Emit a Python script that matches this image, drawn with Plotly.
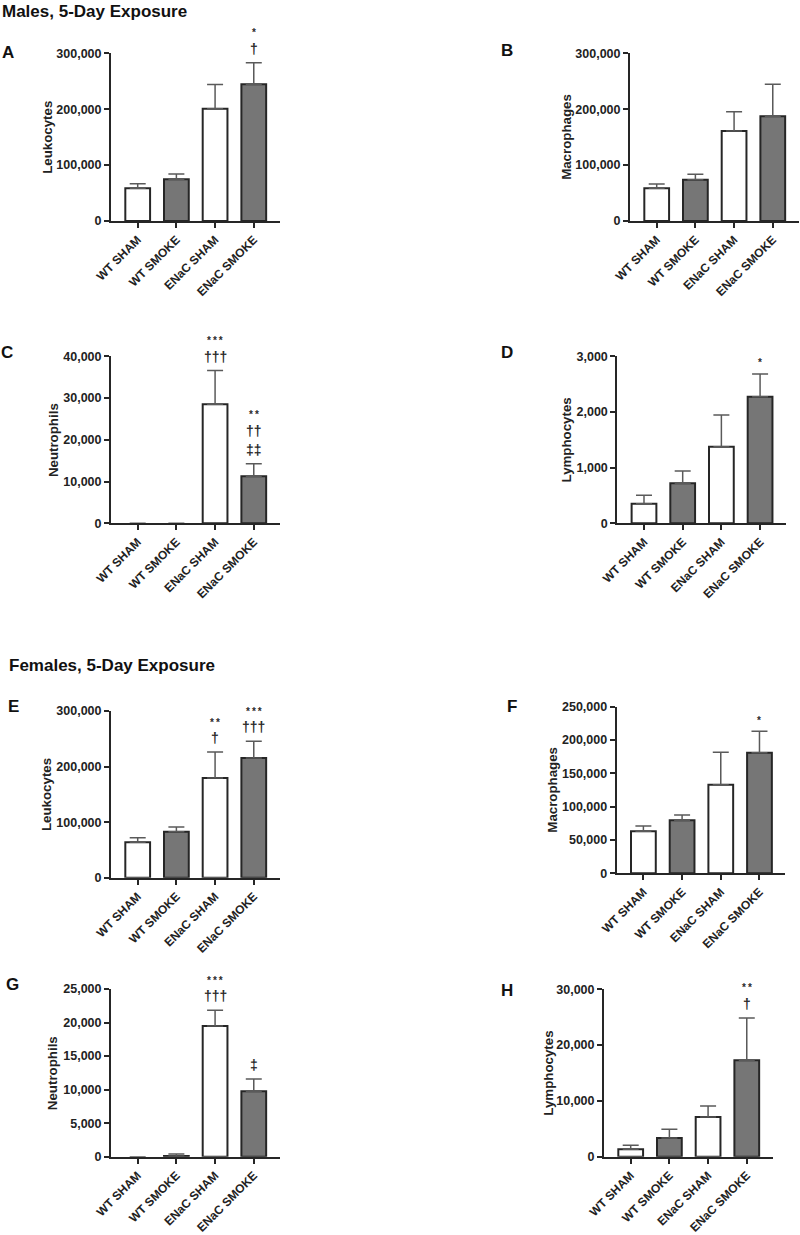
import plotly.graph_objects as go

W, H = 800, 1235

categories = ["WT SHAM", "WT SMOKE", "ENaC SHAM", "ENaC SMOKE"]

# Males, 5-day exposure (None = no visible error bar)
males_leuk_mean = [58400, 74500, 201000, 244500]
males_leuk_sem = [8400, 9600, 43000, 38800]
males_mac_mean = [58400, 74000, 161000, 187300]
males_mac_sem = [7800, 9500, 34600, 57200]
males_neut_mean = [0, 0, 28500, 11260]
males_neut_sem = [None, None, 8070, 3030]
males_lymph_mean = [353, 719, 1377, 2275]
males_lymph_sem = [150, 221, 569, 408]

# Females, 5-day exposure
females_leuk_mean = [63600, 82800, 179400, 215400]
females_leuk_sem = [8400, 8400, 46800, 30000]
females_mac_mean = [63000, 79500, 133000, 181000]
females_mac_sem = [8000, 8000, 48500, 32000]
females_neut_mean = [0, 120, 19480, 9740]
females_neut_sem = [None, 280, 2340, 1840]
females_lymph_mean = [1315, 3350, 7110, 17270]
females_lymph_sem = [715, 1550, 1975, 7590]

# significance markers per panel: category index -> symbols top to bottom
sig_A = {3: ["*", "†"]}
sig_B = {}
sig_C = {2: ["***", "†††"], 3: ["**", "††", "‡‡"]}
sig_D = {3: ["*"]}
sig_E = {2: ["**", "†"], 3: ["***", "†††"]}
sig_F = {3: ["*"]}
sig_G = {2: ["***", "†††"], 3: ["‡"]}
sig_H = {3: ["**", "†"]}

panels = [
    # letter, ytitle, mean, sem, ymax, dtick, sig, axis-x px, top px, bottom px, title x px, letter pos
    ("A", "Leukocytes", males_leuk_mean, males_leuk_sem, 300000, 100000, sig_A, 111, 53.3, 221, 46.7, (8, 52)),
    ("B", "Macrophages", males_mac_mean, males_mac_sem, 300000, 100000, sig_B, 630, 53.3, 221, 565.7, (507, 50)),
    ("C", "Neutrophils", males_neut_mean, males_neut_sem, 40000, 10000, sig_C, 111, 356.3, 523.3, 53.3, (7, 353)),
    ("D", "Lymphocytes", males_lymph_mean, males_lymph_sem, 3000, 1000, sig_D, 617.3, 356.3, 523.3, 566.7, (507, 352)),
    ("E", "Leukocytes", females_leuk_mean, females_leuk_sem, 300000, 100000, sig_E, 111, 711, 877.7, 46.7, (13, 706)),
    ("F", "Macrophages", females_mac_mean, females_mac_sem, 250000, 50000, sig_F, 616.7, 706.7, 873.3, 551.7, (512, 706)),
    ("G", "Neutrophils", females_neut_mean, females_neut_sem, 25000, 5000, sig_G, 111, 989, 1156.7, 53.3, (12, 984)),
    ("H", "Lymphocytes", females_lymph_mean, females_lymph_sem, 30000, 10000, sig_H, 604, 989.3, 1156.7, 547.7, (507, 990)),
]

FONT = "Liberation Sans, Arial, Helvetica, sans-serif"
AXC = "#262626"
bar_colors = ["#ffffff", "#767676", "#ffffff", "#767676"]
XRANGE = [-0.69, 3.67]
AX_W = 168.7

fig = go.Figure()
layout = dict(
    width=W, height=H,
    margin=dict(l=0, r=0, t=0, b=0),
    paper_bgcolor="white", plot_bgcolor="white",
    showlegend=False,
    font=dict(family=FONT, size=12, color="#222"),
)
annotations = []

def px_x(x):
    return x / W

def px_y(y):
    return 1 - y / H

for i, (letter, ytitle, mean, sem, ymax, dtick, sig, ax_x, top, bot, tx, lpos) in enumerate(panels):
    n = i + 1
    xa = "x" if n == 1 else f"x{n}"
    ya = "y" if n == 1 else f"y{n}"
    fig.add_trace(go.Bar(
        x=categories, y=mean, xaxis=xa, yaxis=ya,
        width=0.64,
        marker=dict(color=bar_colors,
                    line=dict(color=AXC, width=[0 if v == 0 else 2 for v in mean])),
        error_y=dict(type="data", symmetric=False, array=sem, arrayminus=[0] * 4,
                     color="#5a5a5a", thickness=1.5, width=8),
        hoverinfo="skip",
    ))
    common = dict(
        showline=True, linecolor=AXC, linewidth=2, showgrid=False, zeroline=False,
        ticks="outside", ticklen=5, tickwidth=2, tickcolor=AXC, automargin=False,
    )
    layout["xaxis" if n == 1 else f"xaxis{n}"] = dict(
        domain=[px_x(ax_x), px_x(ax_x + AX_W)], anchor=ya, range=XRANGE,
        type="category", tickangle=-45, fixedrange=True,
        tickfont=dict(family=FONT, size=12, color="#222", weight="bold"), **common)
    layout["yaxis" if n == 1 else f"yaxis{n}"] = dict(
        domain=[px_y(bot), px_y(top)], anchor=xa, range=[0, ymax],
        dtick=dtick, tick0=0, tickformat=",d", fixedrange=True,
        tickfont=dict(family=FONT, size=12.5, color="#222", weight="bold"), **common)
    # y title
    annotations.append(dict(
        text=f"<b>{ytitle}</b>", x=px_x(tx), y=px_y((top + bot) / 2), xref="paper", yref="paper",
        textangle=-90, showarrow=False, xanchor="center", yanchor="middle",
        font=dict(family=FONT, size=13.3, color="#222")))
    # panel letter
    annotations.append(dict(
        text=f"<b>{letter}</b>", x=px_x(lpos[0]), y=px_y(lpos[1]), xref="paper", yref="paper",
        showarrow=False, xanchor="center", yanchor="middle",
        font=dict(family=FONT, size=17, color="#111")))
    # significance markers
    for ci, syms in sig.items():
        base = mean[ci] + (sem[ci] or 0)
        for k, s in enumerate(reversed(syms)):
            is_star = s.startswith("*")
            shift = 14 + 19 * k
            annotations.append(dict(
                text="<b>" + ("\u2009".join(s) if is_star else s) + "</b>",
                x=categories[ci], y=base, xref=xa, yref=ya,
                showarrow=False, xanchor="center", yanchor="middle",
                yshift=shift - (3 if is_star else 0),
                font=dict(family=FONT, size=10 if is_star else 14, color="#2a2a2a")))

# section titles
annotations.append(dict(text="<b>Males, 5-Day Exposure</b>", x=0, y=1, xref="paper", yref="paper",
                        showarrow=False, xanchor="left", yanchor="top",
                        font=dict(family=FONT, size=17, color="#111")))
annotations.append(dict(text="<b>Females, 5-Day Exposure</b>", x=px_x(7), y=px_y(665), xref="paper", yref="paper",
                        showarrow=False, xanchor="left", yanchor="middle",
                        font=dict(family=FONT, size=17, color="#111")))

layout["annotations"] = annotations
fig.update_layout(**layout)
fig.write_html(
    "out.html",
    config={"displayModeBar": False},
    post_script="document.body.style.margin='0';document.body.style.padding='0';",
)
